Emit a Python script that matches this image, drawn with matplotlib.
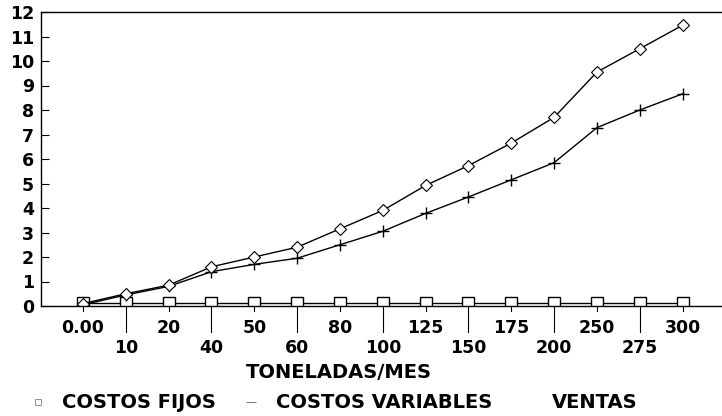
import matplotlib.pyplot as plt
from matplotlib.lines import Line2D

plt.rcParams['font.family'] = ['DejaVu Sans']
plt.rcParams['font.weight'] = 'bold'

# categorias del eje x (toneladas/mes)
toneladas = ['0.00', '10', '20', '40', '50', '60', '80', '100',
             '125', '150', '175', '200', '250', '275', '300']
costos_fijos = [0.12] * 15
costos_variables = [0.05, 0.45, 0.8, 1.4, 1.7, 1.95, 2.5, 3.05,
                    3.78, 4.45, 5.15, 5.85, 7.28, 8.0, 8.66]
ventas = [0.1, 0.5, 0.85, 1.6, 2.0, 2.4, 3.15, 3.9,
          4.92, 5.73, 6.65, 7.7, 9.55, 10.5, 11.46]

fig = plt.figure(figsize=(7.22, 4.16), dpi=100)
ax = fig.add_axes([41 / 722, 1 - 306 / 416, 1 - 41 / 722, (306 - 12) / 416])

x = range(len(toneladas))
ax.plot(x, costos_fijos, color='black', lw=1, marker='s', ms=8,
        mfc='white', mec='black', mew=1)
ax.plot(x, costos_variables, color='black', lw=1, marker='+', ms=9, mew=1)
ax.plot(x, ventas, color='black', lw=1, marker='D', ms=6.5,
        mfc='white', mec='black', mew=0.8)

ax.set_xlim(-0.98, 14.92)
ax.set_ylim(0, 12)
ax.set_yticks(range(0, 13))
ax.tick_params(axis='y', direction='in', length=6, labelsize=12.5, pad=5)
ax.spines['right'].set_visible(False)
for s in ['left', 'top', 'bottom']:
    ax.spines[s].set_linewidth(1)

# etiquetas escalonadas en dos filas
ax.set_xticks(list(x))
ax.set_xticklabels([])
ax.tick_params(axis='x', direction='out', length=0)
for i, lab in enumerate(toneladas):
    if i % 2 == 0:
        ax.plot([i, i], [0, -0.2], color='black', lw=0.8, clip_on=False)
        ax.annotate(lab, (i, 0), xytext=(0, -16), textcoords='offset points',
                    ha='center', va='center', fontsize=12.5)
    else:
        ax.plot([i, i], [0, -1.05], color='black', lw=0.8, clip_on=False)
        ax.annotate(lab, (i, 0), xytext=(0, -30.5), textcoords='offset points',
                    ha='center', va='center', fontsize=12.5)

fig.text(0.5 - 22 / 722, 1 - 372 / 416, 'TONELADAS/MES', ha='center',
         va='center', fontsize=14)

handles = [
    Line2D([], [], ls='none', marker='s', ms=5, mfc='white', mec='gray', mew=0.6),
    Line2D([], [], ls='none', marker='_', ms=7, mec='gray', mew=0.8),
    Line2D([], [], ls='none', marker='D', ms=4, mfc='white', mec='white', mew=0.6),
]
fig.legend(handles, ['COSTOS FIJOS', 'COSTOS VARIABLES', 'VENTAS'],
           loc='center left', bbox_to_anchor=(28 / 722, 1 - 403 / 416), ncol=3,
           frameon=False, fontsize=14, handletextpad=0.77, columnspacing=1.3,
           handlelength=1.0, borderpad=0, borderaxespad=0)

fig.savefig('out.png', dpi=100)
